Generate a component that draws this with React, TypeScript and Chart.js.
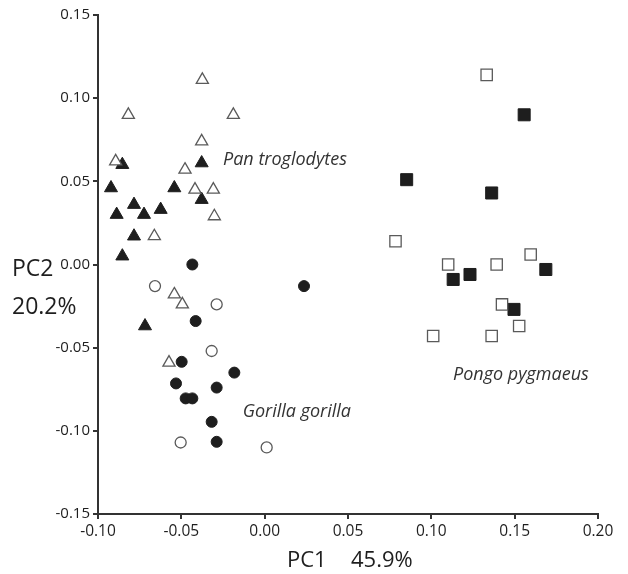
import React, { useEffect, useRef } from "react";
import { Chart, registerables } from "chart.js";

Chart.register(...registerables);

// Pan troglodytes
const panOpenX = [-0.0374, -0.0818, -0.0188, -0.0378, -0.0894, -0.0478, -0.0418, -0.0308, -0.0302, -0.0662, -0.0542, -0.0494, -0.0574];
const panOpenY = [0.111, 0.09, 0.09, 0.074, 0.062, 0.057, 0.045, 0.045, 0.029, 0.017, -0.018, -0.024, -0.059];
const panFillX = [-0.0854, -0.0378, -0.0922, -0.0542, -0.0378, -0.0784, -0.0624, -0.0888, -0.0724, -0.0784, -0.0854, -0.0718];
const panFillY = [0.06, 0.061, 0.046, 0.046, 0.039, 0.036, 0.033, 0.03, 0.03, 0.017, 0.005, -0.037];
// Gorilla gorilla
const gorOpenX = [-0.0658, -0.0288, -0.0318, -0.0504, 0.0012];
const gorOpenY = [-0.013, -0.024, -0.052, -0.107, -0.11];
const gorFillX = [-0.0434, 0.0236, -0.0414, -0.0498, -0.0182, -0.0532, -0.0288, -0.0474, -0.0434, -0.0318, -0.0288];
const gorFillY = [0.0, -0.013, -0.034, -0.0585, -0.065, -0.0715, -0.074, -0.0805, -0.0805, -0.0946, -0.1066];
// Pongo pygmaeus
const pongoOpenX = [0.1332, 0.0785, 0.1101, 0.1392, 0.1596, 0.1424, 0.1527, 0.1011, 0.1362];
const pongoOpenY = [0.114, 0.014, 0.0, 0.0, 0.006, -0.024, -0.037, -0.043, -0.043];
const pongoFillX = [0.1557, 0.0852, 0.1362, 0.1131, 0.1232, 0.1687, 0.1496];
const pongoFillY = [0.09, 0.051, 0.043, -0.009, -0.006, -0.003, -0.027];

const speciesLabels = ["Pan troglodytes", "Gorilla gorilla", "Pongo pygmaeus"];
const labelX = [-0.025, -0.0132, 0.113];
const labelY = [0.0628, -0.0885, -0.0665];

const xTitleA = "PC1";
const xTitleB = "45.9%";
const yTitle1 = "PC2";
const yTitle2 = "20.2%";

const xTicks = [-0.1, -0.05, 0, 0.05, 0.1, 0.15, 0.2];
const yTicks = [-0.15, -0.1, -0.05, 0, 0.05, 0.1, 0.15];
const xMin = -0.1, xMax = 0.2, yMin = -0.15, yMax = 0.15;

const pts = (xs: number[], ys: number[]) => xs.map((x, i) => ({ x, y: ys[i] }));

const FONT = "'Open Sans', 'Noto Sans', sans-serif";
const DARK = "#1e1e1e";
const GREY = "#5a5a5a";

export default function App() {
  const ref = useRef<HTMLCanvasElement>(null);
  useEffect(() => {
    if (!ref.current) return;
    const textPlugin = {
      id: "texts",
      afterDraw(chart: any) {
        const ctx = chart.ctx;
        const xs = chart.scales.x;
        const ys = chart.scales.y;
        ctx.save();
        ctx.fillStyle = "#333";
        ctx.font = `italic 18px ${FONT}`;
        ctx.textAlign = "left";
        ctx.textBaseline = "middle";
        speciesLabels.forEach((t, i) => {
          ctx.fillText(t, xs.getPixelForValue(labelX[i]), ys.getPixelForValue(labelY[i]));
        });
        ctx.fillStyle = DARK;
        ctx.font = `22px ${FONT}`;
        ctx.fillText(xTitleA, 287, 561);
        ctx.fillText(xTitleB, 351, 561);
        ctx.font = `23px ${FONT}`;
        ctx.fillText(yTitle1, 12, 269);
        ctx.fillText(yTitle2, 12, 307);
        ctx.restore();
      },
    };
    const chart = new Chart(ref.current, {
      type: "scatter",
      data: {
        datasets: [
          { data: pts(panOpenX, panOpenY), pointStyle: "triangle", pointRadius: 7, backgroundColor: "#fff", borderColor: GREY, borderWidth: 1.3 },
          { data: pts(panFillX, panFillY), pointStyle: "triangle", pointRadius: 7.5, backgroundColor: DARK, borderColor: DARK, borderWidth: 1 },
          { data: pts(gorOpenX, gorOpenY), pointStyle: "circle", pointRadius: 5.5, backgroundColor: "#fff", borderColor: GREY, borderWidth: 1.3 },
          { data: pts(gorFillX, gorFillY), pointStyle: "circle", pointRadius: 5.5, backgroundColor: DARK, borderColor: DARK, borderWidth: 1 },
          { data: pts(pongoOpenX, pongoOpenY), pointStyle: "rect", pointRadius: 8, backgroundColor: "#fff", borderColor: GREY, borderWidth: 1.3 },
          { data: pts(pongoFillX, pongoFillY), pointStyle: "rect", pointRadius: 8.5, backgroundColor: DARK, borderColor: DARK, borderWidth: 1 },
        ] as any,
      },
      options: {
        animation: false,
        responsive: false,
        maintainAspectRatio: false,
        layout: { padding: { top: 15, right: 30, left: 0, bottom: 0 } },
        plugins: { legend: { display: false }, tooltip: { enabled: false } },
        scales: {
          x: {
            type: "linear",
            min: xMin,
            max: xMax,
            afterFit: (s: any) => { s.height = 60; },
            afterBuildTicks: (s: any) => {
              s.ticks = xTicks.map((v) => ({ value: v }));
            },
            ticks: {
              callback: (v: any) => Number(v).toFixed(2),
              color: DARK,
              font: { family: FONT, size: 15.5 },
              padding: 3,
              maxRotation: 0,
            },
            grid: { drawOnChartArea: false, drawTicks: true, tickLength: 5, color: "#333", lineWidth: 2 },
            border: { display: true, color: "#333", width: 2 },
          },
          y: {
            type: "linear",
            min: yMin,
            max: yMax,
            afterFit: (s: any) => { s.width = 98; },
            afterBuildTicks: (s: any) => {
              s.ticks = yTicks.map((v) => ({ value: v }));
            },
            ticks: {
              callback: (v: any) => Number(v).toFixed(2),
              color: DARK,
              font: { family: FONT, size: 15 },
              padding: 3,
            },
            grid: { drawOnChartArea: false, drawTicks: true, tickLength: 5, color: "#333", lineWidth: 2 },
            border: { display: true, color: "#333", width: 2 },
          },
        },
      } as any,
      plugins: [textPlugin],
    });
    return () => chart.destroy();
  }, []);
  return (
    <div style={{ position: "fixed", left: 0, top: 0, width: 628, height: 574, background: "#fff" }}>
      <canvas ref={ref} width={628} height={574} style={{ width: 628, height: 574 }} />
    </div>
  );
}
